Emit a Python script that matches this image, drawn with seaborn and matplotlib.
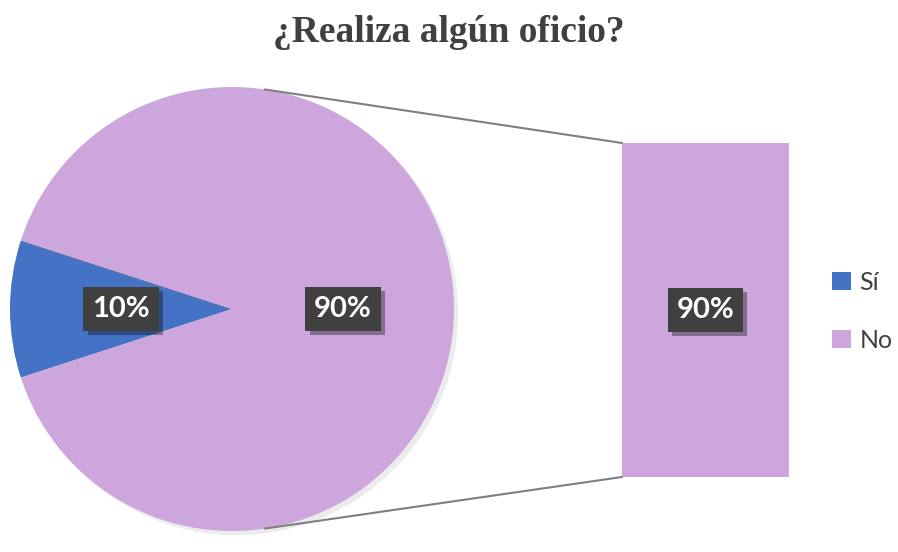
import matplotlib
matplotlib.use("Agg")
import matplotlib.pyplot as plt
import matplotlib.patheffects as pe
from matplotlib.patches import Patch, ConnectionPatch
import numpy as np
import pandas as pd
import seaborn as sns

# Data
categories = ["Sí", "No"]
pie_values = [10, 90]
bar_categories = ["No"]
bar_values = [90]
colors = ["#4472C4", "#CCA6DC"]
title = "¿Realiza algún oficio?"

sns.set_style("white")
plt.rcParams["font.family"] = ["Lato", "DejaVu Sans"]

W, H = 898, 552
fig = plt.figure(figsize=(W / 100, H / 100), dpi=100)
fig.patch.set_facecolor("white")

def px_axes(x0, y0, x1, y1):
    # axes rect from pixel box (top-left origin)
    return fig.add_axes([x0 / W, 1 - y1 / H, (x1 - x0) / W, (y1 - y0) / H])

label_box = dict(boxstyle="square,pad=0.3", fc="#404040", ec="none")
shadow = [pe.SimplePatchShadow(offset=(3, -3), shadow_rgbFace="black", alpha=0.35), pe.Normal()]
soft = [pe.SimplePatchShadow(offset=(3, -3), shadow_rgbFace="gray", alpha=0.15), pe.Normal()]
lab_size = 21

# Pie
ax_pie = px_axes(10, 87, 454, 531)
wedges, texts, autotexts = ax_pie.pie(
    pie_values, colors=colors, startangle=162, counterclock=True,
    autopct=lambda p: f"{p:.0f}%", pctdistance=0.5, radius=1,
    wedgeprops=dict(linewidth=0),
)
for w in wedges:
    w.set_path_effects(soft)
for t in autotexts:
    t.set_color("white")
    t.set_fontsize(lab_size)
    t.set_fontweight("bold")
    t.set_bbox(label_box)
    t.get_bbox_patch().set_path_effects(shadow)
ax_pie.set_xlim(-1, 1)
ax_pie.set_ylim(-1, 1)
ax_pie.set_aspect("equal")
ax_pie.axis("off")

# Bar
ax_bar = px_axes(622, 143, 789, 477)
df_bar = pd.DataFrame({"cat": bar_categories, "val": bar_values})
sns.barplot(data=df_bar, x="cat", y="val", color=colors[1], width=1,
            saturation=1, ax=ax_bar)
for p in ax_bar.patches:
    p.set_linewidth(0)
    p.set_path_effects(soft)
ax_bar.set_xlim(-0.5, 0.5)
ax_bar.set_ylim(0, bar_values[0])
ax_bar.axis("off")
bt = ax_bar.text(0, bar_values[0] / 2, f"{bar_values[0]}%", ha="center", va="center",
                 color="white", fontsize=lab_size, fontweight="bold", bbox=label_box)
bt.get_bbox_patch().set_path_effects(shadow)

# Connector lines
ang = np.deg2rad(81.5)
for sgn, yb in [(1, bar_values[0]), (-1, 0)]:
    con = ConnectionPatch(xyA=(np.cos(ang), sgn * np.sin(ang)), coordsA=ax_pie.transData,
                          xyB=(-0.5, yb), coordsB=ax_bar.transData,
                          color="#7F7F7F", lw=1.5)
    fig.add_artist(con)

# Legend
handles = [Patch(facecolor=c, edgecolor="none") for c in colors]
fig.legend(handles, categories, loc="center left", bbox_to_anchor=(832 / W, 1 - 311 / H),
           frameon=False, fontsize=18, labelcolor="#404040", handlelength=0.75,
           handleheight=0.75, handletextpad=0.35, labelspacing=1.4,
           borderpad=0, borderaxespad=0)

fig.text(0.5, 1 - 32 / H, title, ha="center", va="center", fontsize=27,
         fontweight="bold", color="#404040", family=["Liberation Serif", "DejaVu Serif"])

fig.savefig("out.png", dpi=100)
